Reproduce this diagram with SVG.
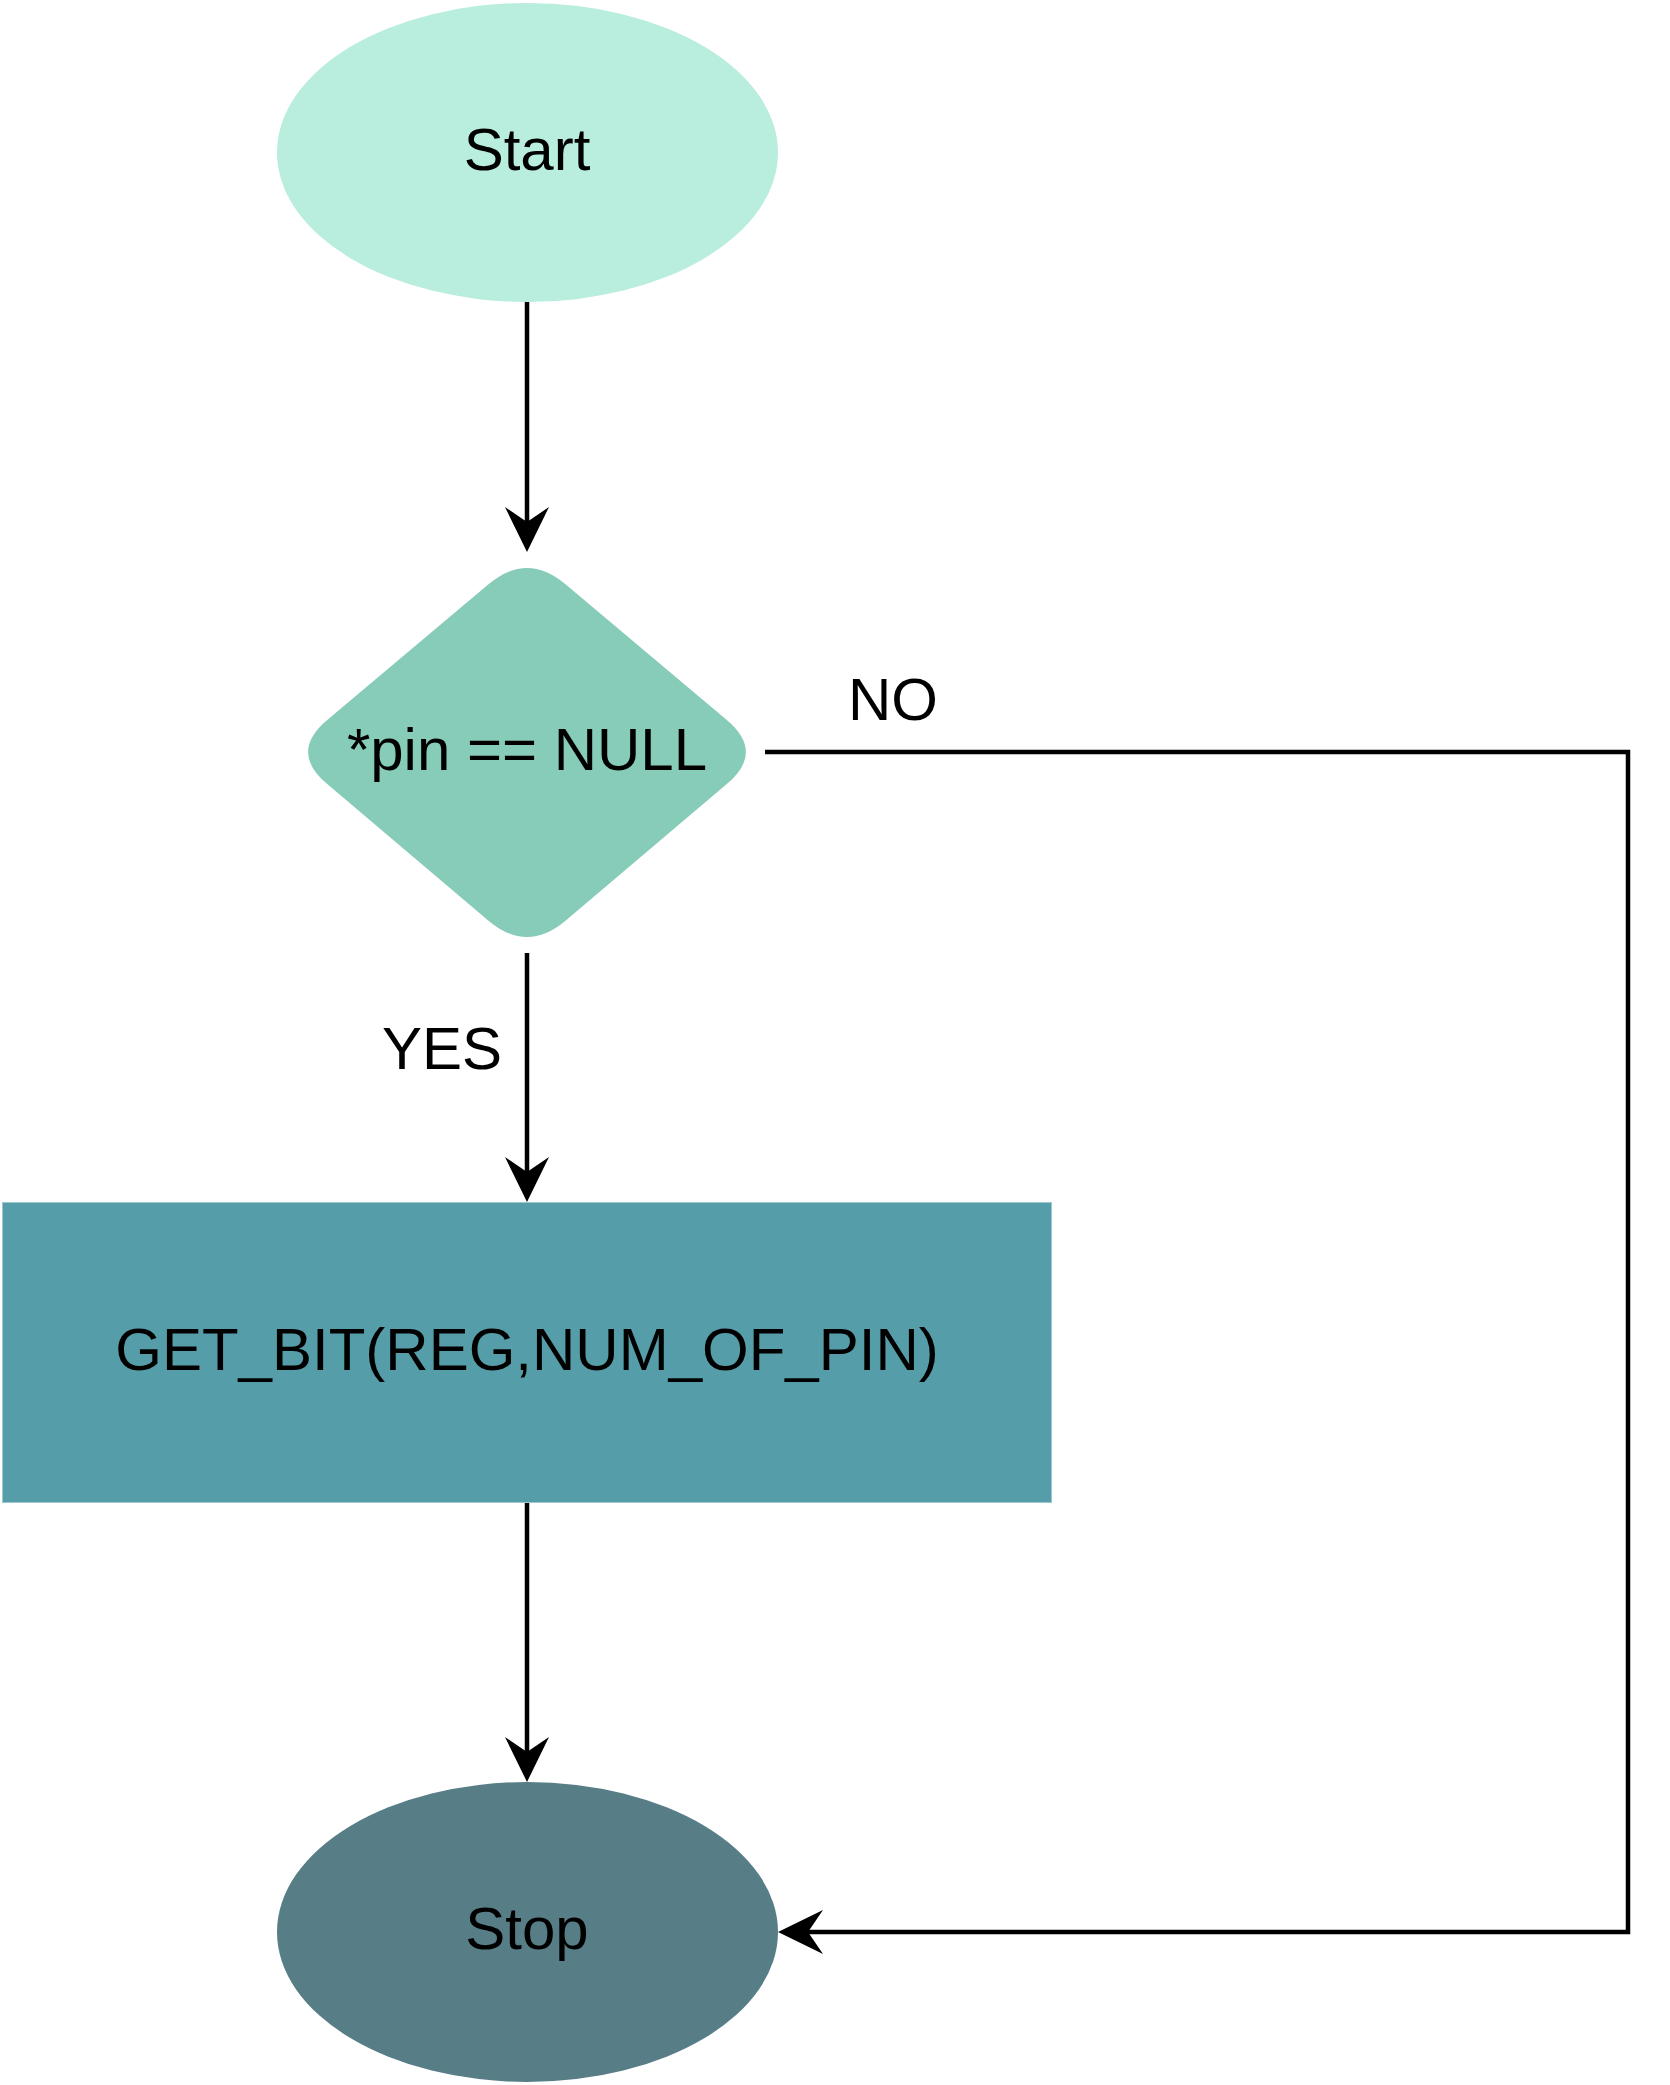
<svg xmlns="http://www.w3.org/2000/svg" width="1670" height="2085" viewBox="0 0 1670 2085">
<defs>
<style>
.lbl{font-family:"Liberation Sans",Arial,sans-serif;font-size:60px;fill:#000;text-anchor:middle}
.conn{fill:none;stroke:#000;stroke-width:4.5;stroke-linejoin:miter;stroke-linecap:butt}
</style>
<marker id="arrow" markerUnits="userSpaceOnUse" markerWidth="46" markerHeight="46" viewBox="0 0 46 46" refX="15" refY="22" orient="auto">
<path d="M0,0 L45,22 L0,44 L15,22 Z" fill="#000"/>
</marker>
</defs>
<rect x="0" y="0" width="1670" height="2085" fill="#ffffff"/>
<g id="connectors">
<path class="conn" d="M527,302 V522" marker-end="url(#arrow)"/>
<path class="conn" d="M527,953 V1172" marker-end="url(#arrow)"/>
<path class="conn" d="M527,1502 V1752" marker-end="url(#arrow)"/>
<path class="conn" d="M765,752 H1628 V1932 H808" marker-end="url(#arrow)"/>
<text class="lbl" x="893" y="720">NO</text>
<text class="lbl" x="442" y="1069">YES</text>
</g>
<g id="start">
<ellipse cx="527.5" cy="152.5" rx="250.5" ry="149.5" fill="#B9EDDD"/>
<text class="lbl" x="527" y="170">Start</text>
</g>
<g id="decision">
<path d="M488.8,584.1 Q527,552 565.2,584.1 L726.8,719.9 Q765,752 726.8,784.1 L565.2,920.9 Q527,953 488.8,920.9 L327.2,784.1 Q289,752 327.2,719.9 Z" fill="#87CBB9"/>
<text class="lbl" x="527" y="770">*pin == NULL</text>
</g>
<g id="getbit">
<rect x="2.5" y="1202.5" width="1049" height="300" fill="#569DAA" stroke="#9cc9cf" stroke-width="1"/>
<text class="lbl" x="527" y="1370">GET_BIT(REG,NUM_OF_PIN)</text>
</g>
<g id="stop">
<ellipse cx="527.5" cy="1932" rx="250.5" ry="150" fill="#577D86"/>
<text class="lbl" x="527" y="1949">Stop</text>
</g>
</svg>
